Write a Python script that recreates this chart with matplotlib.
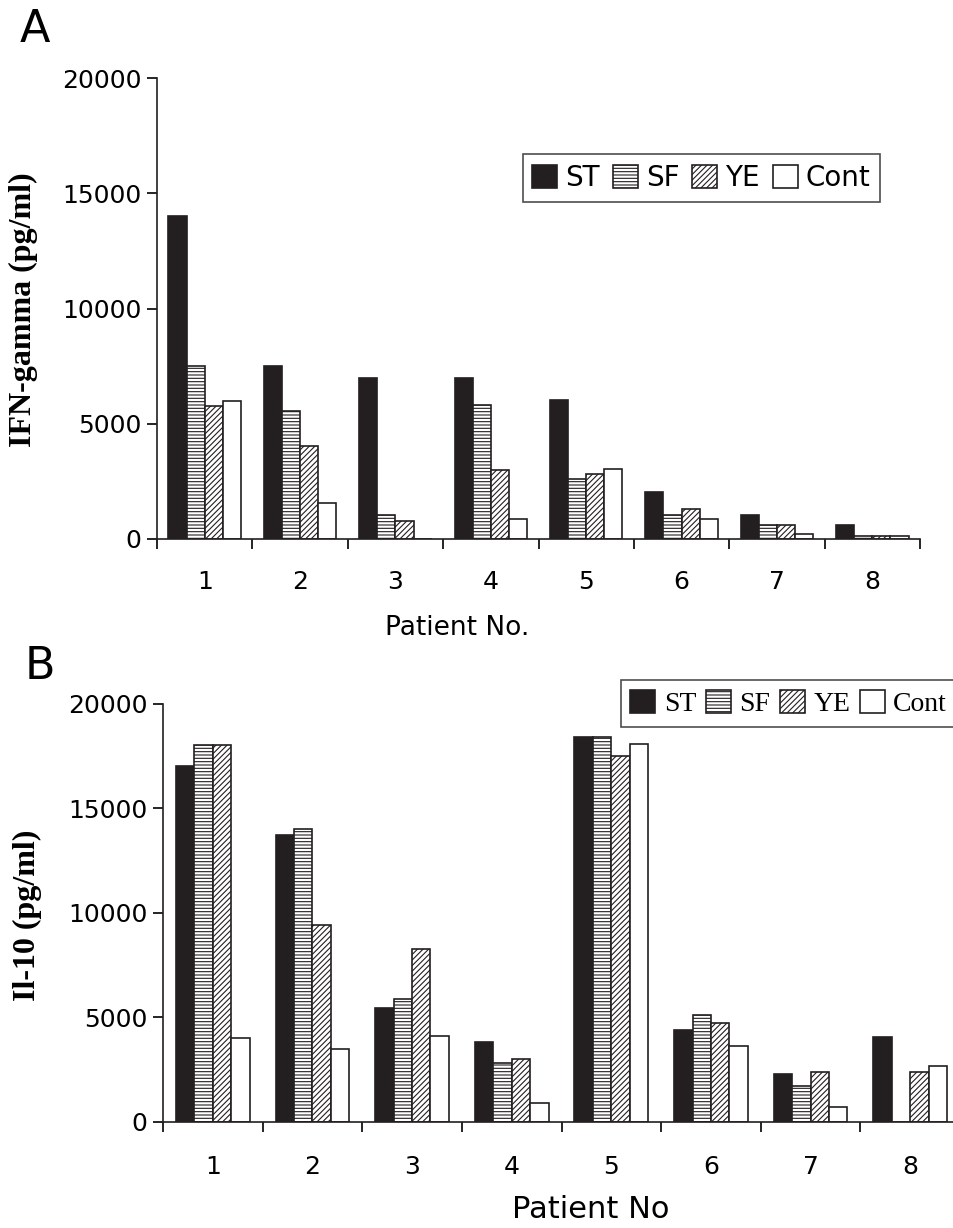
import matplotlib
matplotlib.use("Agg")
import matplotlib.pyplot as plt
import numpy as np

plt.rcParams['hatch.linewidth'] = 0.8

patients = ['1', '2', '3', '4', '5', '6', '7', '8']
series = ['ST', 'SF', 'YE', 'Cont']

ifn_st = [14000, 7500, 7000, 7000, 6050, 2050, 1050, 600]
ifn_sf = [7500, 5550, 1050, 5800, 2600, 1050, 600, 150]
ifn_ye = [5750, 4050, 800, 3000, 2800, 1300, 600, 150]
ifn_cont = [6000, 1550, 0, 850, 3050, 850, 200, 150]

il10_st = [17000, 13700, 5450, 3800, 18400, 4400, 2300, 4050]
il10_sf = [18000, 14000, 5850, 2800, 18400, 5100, 1700, 0]
il10_ye = [18000, 9400, 8250, 3000, 17500, 4700, 2400, 2400]
il10_cont = [4000, 3500, 4100, 900, 18050, 3600, 700, 2650]

yticks = [0, 5000, 10000, 15000, 20000]

W, H = 954, 1228
fig = plt.figure(figsize=(W / 100, H / 100), dpi=100)

styles = [
    dict(color='#231f20', edgecolor='#231f20', hatch=None),
    dict(color='white', edgecolor='#231f20', hatch='-----'),
    dict(color='white', edgecolor='#231f20', hatch='//////'),
    dict(color='white', edgecolor='#231f20', hatch=None),
]


def panel(ax, data, bw, xlabel, xlabel_size, tickpad, legend_kw, legend_font, colsp):
    x = np.arange(1, len(patients) + 1)
    offs = (np.arange(4) - 1.5) * bw
    handles = []
    for vals, st, off, name in zip(data, styles, offs, series):
        b = ax.bar(x + off, vals, width=bw, linewidth=1.2, label=name, **st)
        handles.append(b)
    ax.set_xlim(0.5, len(patients) + 0.5)
    ax.set_ylim(0, 20000)
    ax.set_yticks(yticks)
    ax.set_yticklabels([str(v) for v in yticks])
    ax.set_xticks(x)
    ax.set_xticklabels(patients)
    ax.set_xticks(np.arange(0.5, len(patients) + 1), minor=True)
    ax.tick_params(axis='x', which='major', length=0, pad=tickpad, labelsize=18)
    ax.tick_params(axis='x', which='minor', length=7, width=1.2, direction='out')
    ax.tick_params(axis='y', which='major', length=7, width=1.2, pad=4, labelsize=18, direction='out')
    for s in ['top', 'right']:
        ax.spines[s].set_visible(False)
    for s in ['left', 'bottom']:
        ax.spines[s].set_linewidth(1.2)
        ax.spines[s].set_color('#231f20')
    ax.set_xlabel(xlabel, fontsize=xlabel_size, family='DejaVu Sans')
    leg = ax.legend(handles=handles, ncol=4, frameon=True, fancybox=False,
                    edgecolor='#231f20', handlelength=0.9, handleheight=0.9,
                    handletextpad=0.3, columnspacing=colsp, borderpad=0.35,
                    borderaxespad=0, prop=legend_font, **legend_kw)
    leg.get_frame().set_linewidth(1.2)
    return ax


axA = fig.add_axes([157 / W, 1 - 539 / H, (920 - 157) / W, (539 - 78) / H])
panel(axA, [ifn_st, ifn_sf, ifn_ye, ifn_cont], 0.19, 'Patient No.', 19, 22,
      dict(loc='upper right', bbox_to_anchor=(0.948, 0.835)),
      dict(family='DejaVu Sans', size=20), 0.45)
axA.xaxis.set_label_coords(0.394, -0.165)

axB = fig.add_axes([163 / W, 1 - 1121.7 / H, (960 - 163) / W, (1121.7 - 703.5) / H])
panel(axB, [il10_st, il10_sf, il10_ye, il10_cont], 0.185, 'Patient No', 22, 24,
      dict(loc='upper right', bbox_to_anchor=(0.996, 1.056)),
      dict(family='Liberation Serif', size=20), 0.35)
axB.xaxis.set_label_coords(0.536, -0.175)

fig.text(23 / W, 1 - 310 / H, 'IFN-gamma (pg/ml)', rotation=90, ha='center', va='center',
         fontsize=23, family='Liberation Serif', fontweight='bold')
fig.text(27 / W, 1 - 915 / H, 'Il-10 (pg/ml)', rotation=90, ha='center', va='center',
         fontsize=23, family='Liberation Serif', fontweight='bold')

fig.text(20 / W, 1 - 8 / H, 'A', fontsize=32, va='top', ha='left', family='DejaVu Sans')
fig.text(25 / W, 1 - 645 / H, 'B', fontsize=32, va='top', ha='left', family='DejaVu Sans')

fig.savefig('out.png', dpi=100)
